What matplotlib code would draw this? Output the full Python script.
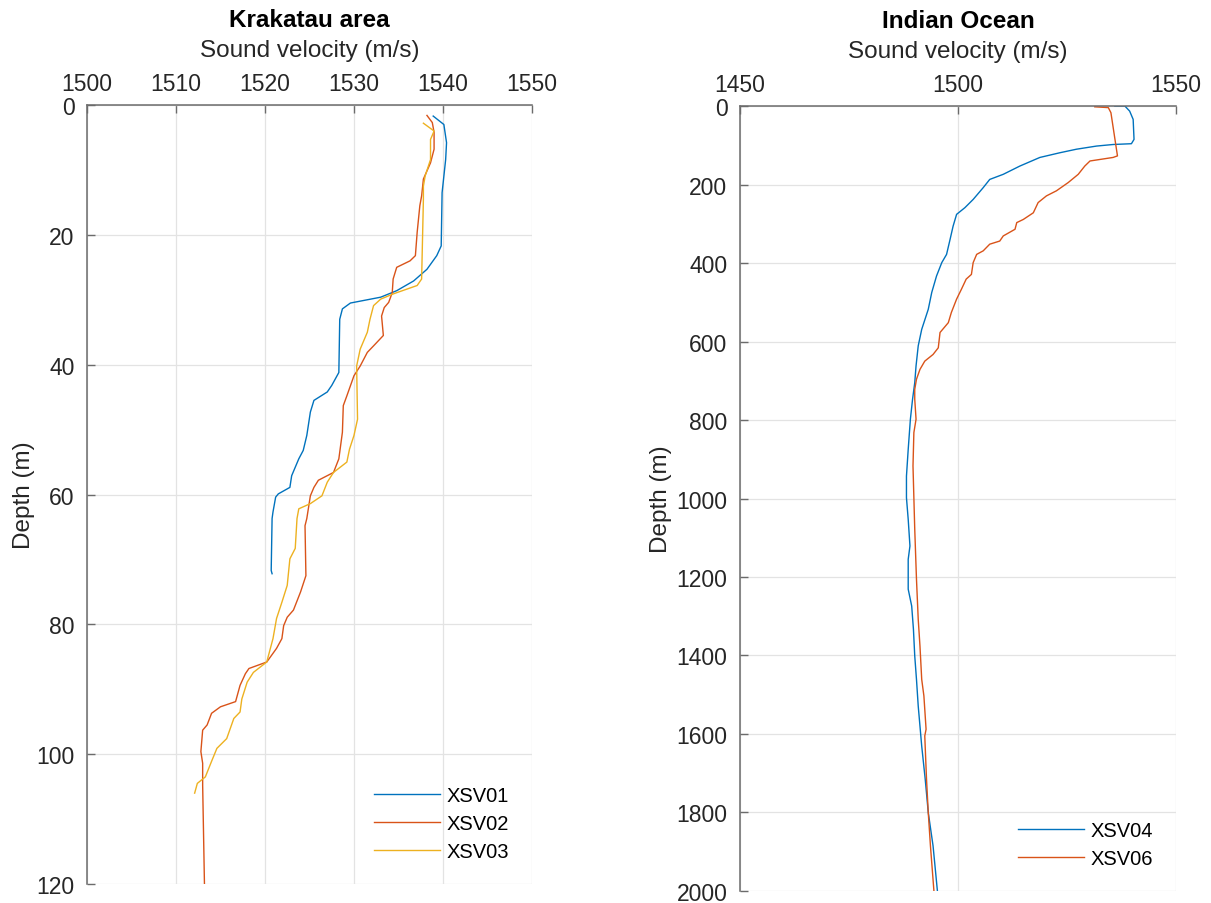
import numpy as np
import matplotlib
matplotlib.use("Agg")
import matplotlib.pyplot as plt

# Krakatau area profiles (depth in m, sound velocity in m/s)
xsv01_depth = [1.7, 3.0, 5.8, 8.4, 13.5, 21.7, 23.2, 25.3, 27.1, 28.6, 29.6, 30.5, 31.4, 33.0,
               41.2, 41.7, 43.2, 44.2, 45.5, 47.3, 50.9, 53.2, 54.5, 57.1, 58.9, 59.9, 60.4,
               62.7, 63.7, 71.7, 72.2]
xsv01_vel = [1538.9, 1540.1, 1540.4, 1540.3, 1539.9, 1539.8, 1539.3, 1538.2, 1536.7, 1534.8,
             1533.0, 1529.6, 1528.7, 1528.4, 1528.3, 1528.1, 1527.5, 1527.0, 1525.5, 1525.1,
             1524.7, 1524.3, 1523.8, 1523.0, 1522.8, 1521.5, 1521.2, 1520.9, 1520.8, 1520.7,
             1520.8]

xsv02_depth = [1.6, 2.7, 4.2, 6.8, 8.9, 11.4, 14.0, 15.5, 19.6, 23.2, 24.0, 25.0, 26.8, 28.9,
               30.4, 31.2, 32.5, 35.5, 37.1, 38.1, 40.2, 41.7, 44.8, 46.3, 50.4, 54.5, 56.6,
               57.8, 58.9, 60.2, 63.7, 64.8, 72.5, 75.0, 77.8, 78.9, 80.2, 82.2, 83.7, 85.8,
               86.8, 87.6, 89.4, 91.9, 92.7, 93.7, 95.5, 96.3, 99.6, 101.4, 104.8, 119.9]
xsv02_vel = [1538.2, 1538.8, 1539.0, 1539.0, 1538.6, 1537.8, 1537.6, 1537.4, 1537.1, 1536.9,
             1536.3, 1534.8, 1534.4, 1534.3, 1533.9, 1533.4, 1533.1, 1533.3, 1532.2, 1531.5,
             1530.7, 1530.0, 1529.2, 1528.8, 1528.7, 1528.3, 1527.7, 1526.0, 1525.5, 1525.1,
             1524.7, 1524.5, 1524.6, 1524.0, 1523.2, 1522.5, 1522.1, 1521.9, 1521.3, 1520.2,
             1518.2, 1517.8, 1517.2, 1516.7, 1515.0, 1514.0, 1513.5, 1513.0, 1512.8, 1513.0,
             1513.0, 1513.2]

xsv03_depth = [2.8, 4.0, 5.3, 8.4, 10.9, 12.5, 14.5, 26.8, 27.8, 29.1, 29.9, 30.9, 33.0, 35.0,
               37.6, 38.9, 40.2, 48.4, 50.9, 53.0, 55.0, 56.6, 58.1, 60.2, 61.4, 62.2, 63.7,
               68.3, 69.9, 74.0, 76.6, 79.1, 82.2, 85.8, 87.4, 88.9, 91.5, 93.5, 94.5, 97.6,
               99.1, 101.1, 103.5, 104.5, 106.0]
xsv03_vel = [1537.8, 1539.0, 1538.6, 1538.6, 1538.0, 1537.8, 1537.8, 1537.6, 1537.1, 1534.4,
             1533.0, 1532.2, 1531.8, 1531.5, 1530.7, 1530.5, 1530.3, 1530.4, 1530.0, 1529.5,
             1529.2, 1527.7, 1527.0, 1526.4, 1525.1, 1523.8, 1523.6, 1523.4, 1522.8, 1522.5,
             1521.9, 1521.3, 1520.9, 1520.2, 1518.7, 1518.0, 1517.4, 1517.2, 1516.5, 1515.7,
             1514.6, 1514.0, 1513.3, 1512.4, 1512.1]

# Indian Ocean profiles
xsv04_depth = [0, 0, 13, 34, 85, 96, 98, 102, 110, 119, 131, 153, 174, 187, 208, 238, 259, 276,
               306, 340, 378, 399, 433, 475, 518, 569, 611, 662, 705, 747, 798, 875, 943, 998,
               1053, 1121, 1155, 1231, 1274, 1333, 1401, 1461, 1529, 1631, 1715, 1800, 1885, 2000]
xsv04_vel = [1536.0, 1538.3, 1539.4, 1540.2, 1540.4, 1539.8, 1535.6, 1531.8, 1527.2, 1523.4,
             1518.8, 1514.2, 1510.4, 1507.3, 1505.8, 1503.5, 1501.6, 1499.7, 1498.9, 1498.2,
             1497.4, 1496.3, 1495.1, 1494.0, 1493.2, 1491.7, 1490.9, 1490.4, 1490.1, 1489.6,
             1489.1, 1488.6, 1488.2, 1488.2, 1488.6, 1489.0, 1488.6, 1488.6, 1489.4, 1489.8,
             1490.1, 1490.5, 1490.9, 1491.7, 1492.5, 1493.2, 1494.3, 1495.3]

xsv06_depth = [2, 4, 17, 127, 131, 140, 153, 174, 195, 216, 229, 246, 272, 289, 297, 314, 331,
               344, 352, 369, 378, 399, 429, 441, 467, 492, 526, 552, 577, 616, 633, 650, 671,
               696, 722, 747, 798, 832, 917, 998, 1078, 1206, 1308, 1376, 1461, 1503, 1588,
               1605, 1715, 1800, 1885, 2000]
xsv06_vel = [1531.4, 1534.5, 1535.1, 1536.6, 1535.6, 1530.3, 1529.1, 1527.6, 1525.3, 1522.6,
             1520.3, 1518.4, 1517.3, 1515.0, 1513.5, 1513.1, 1510.4, 1509.6, 1507.3, 1505.8,
             1504.3, 1503.5, 1503.1, 1501.9, 1500.8, 1499.7, 1498.5, 1497.8, 1495.9, 1495.5,
             1494.3, 1492.4, 1491.3, 1490.5, 1490.1, 1490.1, 1490.4, 1489.9, 1489.7, 1489.9,
             1490.1, 1490.5, 1490.9, 1491.3, 1491.7, 1492.2, 1492.7, 1492.4, 1492.8, 1493.2,
             1493.7, 1494.5]

blue = "#0072BD"
orange = "#D95319"
yellow = "#EDB120"
axcol = "#262626"
spinecol = "#6b6b6b"

plt.rcParams["font.family"] = ["Liberation Sans", "DejaVu Sans"]


def style_axes(ax, title, xlim, xticks, ylim, yticks, ylabelpad):
    ax.set_xlim(xlim)
    ax.set_ylim(ylim)
    ax.invert_yaxis()
    ax.set_xticks(xticks)
    ax.set_yticks(yticks)
    ax.xaxis.tick_top()
    ax.xaxis.set_label_position("top")
    ax.tick_params(direction="in", length=6, width=1, colors=spinecol,
                   labelcolor=axcol, labelsize=16.5, pad=7)
    ax.tick_params(axis="y", pad=9)
    for side in ["right", "bottom"]:
        ax.spines[side].set_visible(False)
    for side in ["top", "left"]:
        ax.spines[side].set_color(spinecol)
        ax.spines[side].set_linewidth(1.1)
    ax.grid(True, color="#e3e3e3", linewidth=0.9)
    ax.set_axisbelow(True)
    ax.set_xlabel("Sound velocity (m/s)", fontsize=17.5, color=axcol, labelpad=12)
    ax.set_ylabel("Depth (m)", fontsize=17.5, color=axcol, labelpad=ylabelpad)
    ax.set_title(title, fontsize=17.5, fontweight="bold", pad=9)


def main():
    fig = plt.figure(figsize=(12.11, 9.04), dpi=100)
    ax1 = fig.add_axes([0.0718, 0.021, 0.3675, 0.8617])
    ax2 = fig.add_axes([0.611, 0.0133, 0.360, 0.8683])

    lw = 1.0
    ax1.plot(xsv01_vel, xsv01_depth, color=blue, lw=lw, label="XSV01")
    ax1.plot(xsv02_vel, xsv02_depth, color=orange, lw=lw, label="XSV02")
    ax1.plot(xsv03_vel, xsv03_depth, color=yellow, lw=lw, label="XSV03")
    style_axes(ax1, "Krakatau area", (1500, 1550), np.arange(1500, 1551, 10),
               (0, 120), np.arange(0, 121, 20), 1)

    ax2.plot(xsv04_vel, xsv04_depth, color=blue, lw=lw, label="XSV04")
    ax2.plot(xsv06_vel, xsv06_depth, color=orange, lw=lw, label="XSV06")
    style_axes(ax2, "Indian Ocean", (1450, 1550), [1450, 1500, 1550],
               (0, 2000), np.arange(0, 2001, 200), 3)

    for ax in [ax1, ax2]:
        ax.legend(loc="lower right", frameon=False, fontsize=14.5, handlelength=3.3,
                  handletextpad=0.3, labelspacing=0.45, borderaxespad=0.75)

    fig.savefig("out.png", dpi=100)


if __name__ == '__main__':
    main()
